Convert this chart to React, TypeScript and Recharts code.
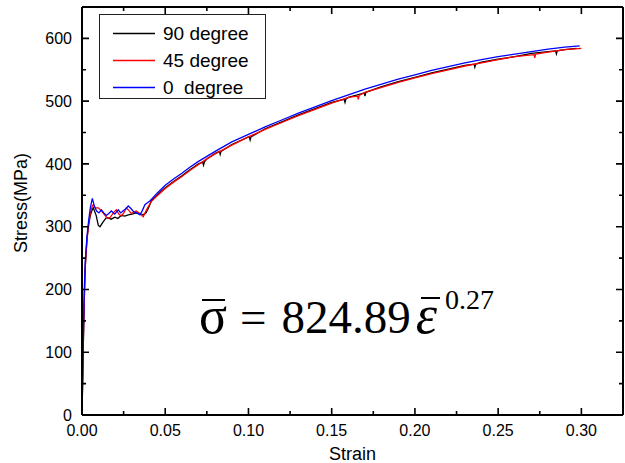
import { LineChart, Line, XAxis, YAxis, Legend, CartesianGrid } from "recharts";

// the page keeps the browser's 8px body margin; the chart sits at the corner
if (typeof document !== "undefined") document.body.style.margin = "0";

const SANS = '"Liberation Sans", Arial, sans-serif';
const SERIF = '"Liberation Serif", "Times New Roman", serif';

// layout
const CHART_W = 625;
const CHART_H = 463;
const MARGIN = { top: 7, right: 2, bottom: 0, left: 0 };
const Y_AXIS_W = 82;
const X_AXIS_H = 48;
const PLOT_TOP = MARGIN.top;
const PLOT_LEFT = MARGIN.left + Y_AXIS_W;
const PLOT_RIGHT = CHART_W - MARGIN.right;
const PLOT_BOTTOM = CHART_H - MARGIN.bottom - X_AXIS_H;

// axis ticks
const X_MAJOR = [0, 0.05, 0.1, 0.15, 0.2, 0.25, 0.3];
const X_MINOR = [0.025, 0.075, 0.125, 0.175, 0.225, 0.275];
const Y_MAJOR = [0, 100, 200, 300, 400, 500, 600];
const Y_MINOR = [50, 150, 250, 350, 450, 550];

// 90 degree specimen (black)
const strain90 = [
  0, 0.0005, 0.001, 0.0015, 0.002, 0.003, 0.004, 0.005, 0.006, 0.0068, 0.0085,
  0.0098, 0.0108, 0.0125, 0.0145, 0.0158, 0.0175, 0.0198, 0.0215, 0.0236,
  0.0257, 0.0278, 0.03, 0.0326, 0.0347, 0.0368, 0.0385, 0.04, 0.0416, 0.045,
  0.05, 0.055, 0.06, 0.065, 0.07, 0.0725, 0.073, 0.0735, 0.075, 0.08, 0.0825,
  0.083, 0.0835, 0.09, 0.1, 0.1005, 0.101, 0.1015, 0.11, 0.12, 0.13, 0.14,
  0.15, 0.1575, 0.158, 0.1585, 0.16, 0.1695, 0.17, 0.1705, 0.18, 0.19, 0.2,
  0.21, 0.22, 0.23, 0.2355, 0.236, 0.2365, 0.24, 0.25, 0.26, 0.27, 0.28,
  0.2845, 0.285, 0.2855, 0.29, 0.297,
];
const stress90 = [
  0, 70, 140, 195, 238, 280, 303, 318, 326, 330, 318, 302, 300, 307, 314, 314,
  312, 315, 313, 318, 317, 319, 320, 322, 321, 319, 322, 330, 341, 350, 362,
  372, 381, 391, 400, 403, 398, 403, 408, 417, 420, 415, 420, 431, 443, 443,
  438, 443, 456, 467, 478, 488, 498, 503, 498, 503, 506, 513, 508, 514, 523,
  531, 538, 545, 551, 557, 559, 554, 559, 562, 567, 571, 576, 579, 580, 575,
  580, 582, 584,
];

// 45 degree specimen (red)
const strain45 = [
  0, 0.0005, 0.001, 0.0015, 0.002, 0.003, 0.004, 0.005, 0.0062, 0.0068, 0.008,
  0.0098, 0.0118, 0.0138, 0.0155, 0.017, 0.0188, 0.0206, 0.0221, 0.0236,
  0.0251, 0.0266, 0.0281, 0.0296, 0.0311, 0.0326, 0.0347, 0.0368, 0.0386, 0.04,
  0.0416, 0.045, 0.05, 0.055, 0.06, 0.065, 0.07, 0.075, 0.08, 0.09, 0.1, 0.11,
  0.12, 0.13, 0.14, 0.15, 0.16, 0.1655, 0.166, 0.1665, 0.17, 0.18, 0.19, 0.2,
  0.21, 0.22, 0.23, 0.24, 0.25, 0.26, 0.2715, 0.272, 0.2725, 0.28, 0.29, 0.3,
];
const stress45 = [
  0, 70, 145, 200, 240, 280, 305, 322, 333, 335, 330, 330, 325, 318, 313, 315,
  322, 327, 320, 317, 322, 330, 326, 321, 323, 325, 321, 316, 326, 333, 340,
  349, 361, 371, 380, 390, 399, 408, 416, 430, 443, 455, 466, 477, 487, 497,
  506, 508, 503, 509, 514, 522, 530, 537, 544, 550, 556, 561, 566, 571, 574,
  569, 575, 578, 582, 584,
];

// 0 degree specimen (blue)
const strain0 = [
  0, 0.0005, 0.001, 0.0015, 0.002, 0.003, 0.004, 0.005, 0.0062, 0.0075, 0.0088,
  0.0102, 0.0116, 0.0131, 0.0146, 0.0161, 0.0176, 0.0197, 0.0218, 0.0232,
  0.0246, 0.0262, 0.0278, 0.0294, 0.031, 0.0329, 0.0348, 0.0363, 0.0378,
  0.0393, 0.0408, 0.045, 0.05, 0.055, 0.06, 0.065, 0.07, 0.075, 0.08, 0.09,
  0.1, 0.11, 0.12, 0.13, 0.14, 0.15, 0.16, 0.17, 0.18, 0.19, 0.2, 0.21, 0.22,
  0.23, 0.24, 0.25, 0.26, 0.27, 0.28, 0.29, 0.299,
];
const stress0 = [
  0, 75, 152, 210, 247, 285, 310, 330, 345, 332, 325, 322, 327, 322, 318, 321,
  325, 320, 327, 322, 325, 328, 333, 329, 324, 322, 319, 326, 335, 338, 341,
  353, 366, 376, 385, 395, 404, 412, 420, 435, 447, 459, 470, 481, 491, 501,
  510, 519, 527, 535, 542, 549, 555, 561, 566, 571, 575, 579, 583, 586, 588,
];

const zip = (xs: number[], ys: number[]) =>
  xs.map((strain, i) => ({ strain, stress: ys[i] }));

const series = [
  { name: "90 degree", color: "#000000", data: zip(strain90, stress90) },
  { name: "45 degree", color: "#ff0000", data: zip(strain45, stress45) },
  { name: "0  degree", color: "#0000ff", data: zip(strain0, stress0) },
];

const X_DOMAIN: [number, number] = [0, 0.325];
const Y_DOMAIN: [number, number] = [0, 650];
const X_TICKS = [...X_MAJOR, ...X_MINOR].sort((a, b) => a - b);
const Y_TICKS = [...Y_MAJOR, ...Y_MINOR].sort((a, b) => a - b);

const MAJOR_LEN = 7;
const MINOR_LEN = 4;
const TICK_STYLE = { stroke: "#000000", strokeWidth: 1.6, fill: "none" };

// bottom labels + inward ticks on bottom and top edges
function XTick(props: any) {
  const { x, y, payload } = props;
  const v = Number(payload?.value);
  const major = X_MAJOR.some((t) => Math.abs(t - v) < 1e-9);
  const len = major ? MAJOR_LEN : MINOR_LEN;
  const d = `M${x},${PLOT_BOTTOM}V${PLOT_BOTTOM - len}M${x},${PLOT_TOP}V${PLOT_TOP + len}`;
  return (
    <g>
      <path d={d} style={TICK_STYLE} />
      {major && (
        <text x={x} y={y} dy="0.71em" textAnchor="middle" fill="#000" fontSize={16} fontFamily={SANS}>
          {v.toFixed(2)}
        </text>
      )}
    </g>
  );
}

// left labels + inward ticks on left and right edges
function YTick(props: any) {
  const { x, y, payload } = props;
  const v = Number(payload?.value);
  const major = Y_MAJOR.includes(v);
  const len = major ? MAJOR_LEN : MINOR_LEN;
  const d = `M${PLOT_LEFT},${y}H${PLOT_LEFT + len}M${PLOT_RIGHT},${y}H${PLOT_RIGHT - len}`;
  return (
    <g>
      <path d={d} style={TICK_STYLE} />
      {major && (
        <text x={x} y={y} dy="0.355em" textAnchor="end" fill="#000" fontSize={16} fontFamily={SANS}>
          {v}
        </text>
      )}
    </g>
  );
}

// legend in the series order (recharts sorts the payload by name otherwise)
function LegendBox({ payload }: any) {
  const items = series.map((s) => {
    const p = (payload ?? []).find((e: any) => e.value === s.name);
    return { value: s.name, color: p?.color ?? s.color };
  });
  return (
    <div
      style={{
        width: 167,
        height: 85,
        boxSizing: "border-box",
        border: "1.5px solid #222",
        background: "#fff",
        paddingTop: 5,
        fontFamily: SANS,
        fontSize: 19,
        color: "#000",
      }}
    >
      {items.map((p) => (
        <div
          key={p.value}
          style={{ display: "flex", alignItems: "center", height: 27 }}
        >
          <svg width={63} height={27} style={{ flex: "none" }}>
            <line x1={13} x2={55} y1={13.5} y2={13.5} stroke={p.color} strokeWidth={1.3} />
          </svg>
          <span style={{ whiteSpace: "pre" }}>{p.value}</span>
        </div>
      ))}
    </div>
  );
}

function Equation() {
  const bar = (left: number, right: number, top: number) => (
    <span
      style={{
        position: "absolute",
        left,
        right,
        top,
        borderTop: "2.5px solid #000",
      }}
    />
  );
  return (
    <div
      style={{
        position: "absolute",
        left: 199,
        top: 292,
        fontFamily: SERIF,
        fontSize: 47,
        lineHeight: "47px",
        whiteSpace: "nowrap",
        color: "#000",
        pointerEvents: "none",
      }}
    >
      <span style={{ position: "relative", fontSize: 52 }}>
        σ{bar(3, 2, 12)}
      </span>
      <span style={{ marginLeft: 13 }}>=</span>
      <span style={{ marginLeft: 15 }}>824.89</span>
      <span style={{ position: "relative", fontStyle: "italic", fontSize: 54, marginLeft: 5 }}>
        ε{bar(5, -3, 12)}
      </span>
      <span style={{ fontSize: 28, lineHeight: 0, verticalAlign: 24, marginLeft: 8 }}>
        0.27
      </span>
    </div>
  );
}

export default function App() {
  const frame = { stroke: "#000", strokeWidth: 2 };

  return (
    <div style={{ position: "relative", width: CHART_W, height: CHART_H, background: "#fff", overflow: "hidden" }}>
      <LineChart width={CHART_W} height={CHART_H} margin={MARGIN}>
        {/* top and right edges of the box */}
        <CartesianGrid
          xAxisId="x"
          yAxisId="y"
          horizontalPoints={[PLOT_TOP]}
          verticalPoints={[PLOT_RIGHT]}
          stroke="#000"
          strokeWidth={2}
          strokeDasharray=""
        />
        <XAxis
          xAxisId="x"
          type="number"
          dataKey="strain"
          domain={X_DOMAIN}
          allowDataOverflow
          ticks={X_TICKS}
          interval={0}
          tick={XTick}
          tickLine={false}
          tickSize={0}
          tickMargin={10}
          height={X_AXIS_H}
          axisLine={frame}
          label={{
            value: "Strain",
            position: "insideBottom",
            offset: 3,
            style: { fill: "#000", fontSize: 18, fontFamily: SANS },
          }}
        />
        <YAxis
          yAxisId="y"
          type="number"
          domain={Y_DOMAIN}
          allowDataOverflow
          ticks={Y_TICKS}
          interval={0}
          tick={YTick}
          tickLine={false}
          tickSize={0}
          tickMargin={10}
          width={Y_AXIS_W}
          axisLine={frame}
          label={{
            value: "Stress(MPa)",
            angle: -90,
            position: "center",
            dx: -20,
            dy: -8,
            style: { fill: "#000", fontSize: 18, fontFamily: SANS, textAnchor: "middle" },
          }}
        />

        <Legend
          layout="vertical"
          align="center"
          verticalAlign="middle"
          wrapperStyle={{ left: 99, top: 14, width: 167, height: 85 }}
          content={<LegendBox />}
        />

        {series.map((s) => (
          <Line
            key={s.name}
            xAxisId="x"
            yAxisId="y"
            name={s.name}
            data={s.data}
            dataKey="stress"
            type="linear"
            stroke={s.color}
            strokeWidth={1.3}
            dot={false}
            activeDot={false}
            isAnimationActive={false}
          />
        ))}
      </LineChart>
      <Equation />
    </div>
  );
}
